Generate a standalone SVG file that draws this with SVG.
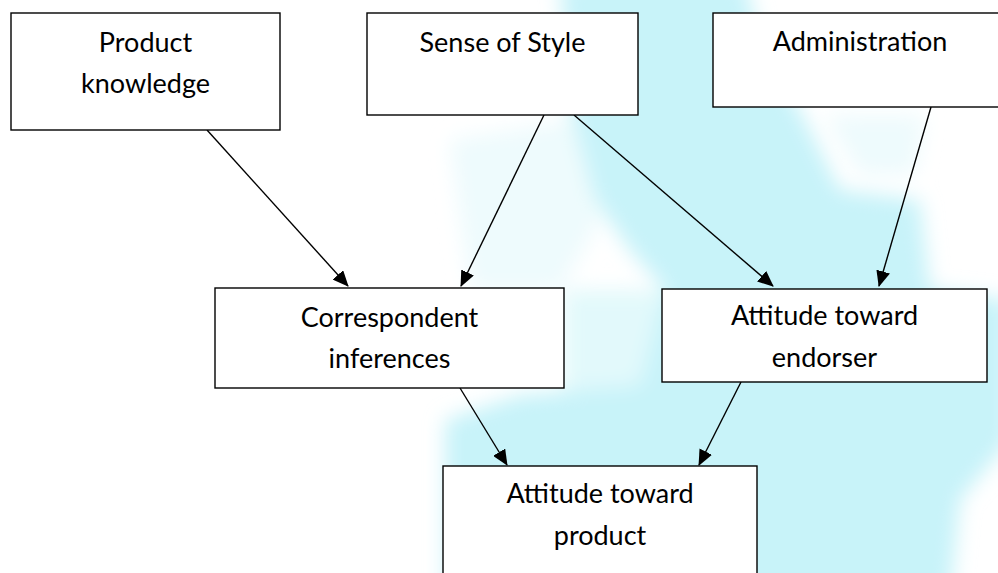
<svg xmlns="http://www.w3.org/2000/svg" width="998" height="573" viewBox="0 0 998 573">
  <defs>
    <style>
      .box { fill: #ffffff; stroke: #000000; stroke-width: 1.4; }
      .lbl { font-family: Lato, "Liberation Sans", sans-serif; font-size: 27px; fill: #000000; text-anchor: middle; }
      .edge { stroke: #000000; stroke-width: 1.4; fill: none; marker-end: url(#arrow); }
    </style>
    <marker id="arrow" markerUnits="userSpaceOnUse" markerWidth="16" markerHeight="14" refX="15" refY="7" orient="auto">
      <path d="M0,0 L16,7 L0,14 Z" fill="#000000"/>
    </marker>
    <filter id="soft" x="-20%" y="-20%" width="140%" height="140%">
      <feGaussianBlur stdDeviation="10"/>
    </filter>
  </defs>

  <rect x="0" y="0" width="998" height="573" fill="#ffffff"/>

  <g id="watermark" filter="url(#soft)">
    <path d="M450,140 L575,120 L600,220 L560,290 L470,290 Z" fill="#eefbfd"/>
    <path d="M564,290 L662,290 L662,390 L564,390 Z" fill="#e2f9fb"/>
    <path d="M560,-20 L745,-20 L765,60 L800,110 L840,190 L920,200 L930,290 L1010,300 L1010,440 L960,500 L950,600 L445,600 L445,420 L520,395 L640,385 L665,290 L630,250 L595,200 L570,110 Z" fill="#c8f3f9"/>
    <path d="M825,115 L925,115 L915,175 L860,175 Z" fill="#eefbfd"/>
  </g>

  <g id="connectors">
    <line class="edge" x1="207" y1="130" x2="348" y2="286"/>
    <line class="edge" x1="544" y1="115" x2="461" y2="286"/>
    <line class="edge" x1="574" y1="115" x2="773" y2="286"/>
    <line class="edge" x1="931" y1="107" x2="879" y2="286"/>
    <line class="edge" x1="460" y1="388" x2="507" y2="465"/>
    <line class="edge" x1="741" y1="382" x2="699" y2="465"/>
  </g>

  <g id="node-product-knowledge">
    <rect class="box" x="11" y="13" width="269" height="117"/>
    <text class="lbl" x="145.5" y="52">Product</text>
    <text class="lbl" x="145.5" y="93">knowledge</text>
  </g>

  <g id="node-sense-of-style">
    <rect class="box" x="367" y="13" width="271" height="102"/>
    <text class="lbl" x="502.5" y="52">Sense of Style</text>
  </g>

  <g id="node-administration">
    <rect class="box" x="713" y="13" width="296" height="94"/>
    <text class="lbl" x="860" y="51">Administration</text>
  </g>

  <g id="node-correspondent-inferences">
    <rect class="box" x="215" y="288" width="349" height="100"/>
    <text class="lbl" x="389.5" y="327">Correspondent</text>
    <text class="lbl" x="389.5" y="368">inferences</text>
  </g>

  <g id="node-attitude-endorser">
    <rect class="box" x="662" y="289" width="325" height="93"/>
    <text class="lbl" x="824.5" y="325">Attitude toward</text>
    <text class="lbl" x="824.5" y="367">endorser</text>
  </g>

  <g id="node-attitude-product">
    <rect class="box" x="443" y="466" width="314" height="120"/>
    <text class="lbl" x="600" y="503">Attitude toward</text>
    <text class="lbl" x="600" y="545">product</text>
  </g>
</svg>
